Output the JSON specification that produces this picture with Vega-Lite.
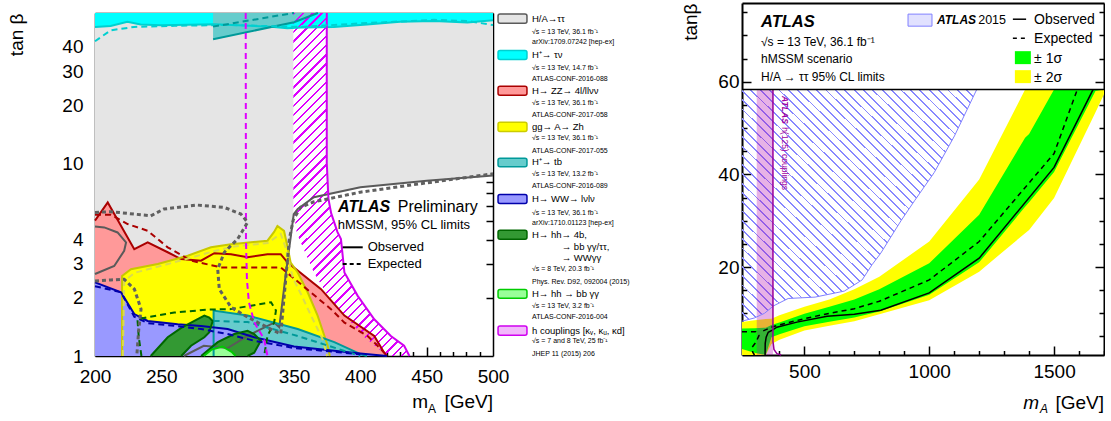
{
"$schema": "https://vega.github.io/schema/vega-lite/v6.json",
"padding": {"left": 7, "top": 2, "right": 0, "bottom": 0},
"bounds": "flush",
"spacing": 647,
"config": {
  "font": "Liberation Sans",
  "view": {"stroke": null},
  "text": {"font": "Liberation Sans", "color": "#000"},
  "axis": {"grid": false, "domainColor": "#000", "tickColor": "#000", "labelColor": "#000", "labelFont": "Liberation Sans", "labelFontSize": 19, "titleFont": "Liberation Sans", "titleFontSize": 19, "titleFontWeight": "normal", "titleColor": "#000", "zindex": 1, "domainWidth": 1.5, "tickWidth": 1.5, "labelOverlap": false, "labelFlush": false}
},
"datasets": {
  "one": [{}],
  "ttfill": [{"m":200,"t":1},{"m":335,"t":1},{"m":335.1,"t":1.49},{"m":338.9,"t":1.41},{"m":344,"t":2.71},{"m":349.8,"t":5.44},{"m":352.8,"t":5.78},{"m":365,"t":6.66},{"m":400,"t":7.5},{"m":450,"t":8.1},{"m":500,"t":8.63}],
  "obs": [
    {"s":"tt","m":267,"t":1},{"s":"tt","m":282,"t":1.13},{"s":"tt","m":300,"t":1.1},{"s":"tt","m":315,"t":1.27},{"s":"tt","m":335,"t":1.49},{"s":"tt","m":338.9,"t":1.41},{"s":"tt","m":344,"t":2.71},{"s":"tt","m":349.8,"t":5.44},{"s":"tt","m":352.8,"t":5.78},{"s":"tt","m":365,"t":6.66},{"s":"tt","m":400,"t":7.5},{"s":"tt","m":450,"t":8.1},{"s":"tt","m":500,"t":8.63},
    {"s":"ttl","m":200,"t":2.66},{"s":"ttl","m":214.5,"t":2.93},{"s":"ttl","m":222,"t":3.51},{"s":"ttl","m":223.4,"t":3.88},{"s":"ttl","m":217,"t":4.37},{"s":"ttl","m":207,"t":4.64},{"s":"ttl","m":200,"t":4.69},
    {"s":"cy","m":200,"t":50.8},{"s":"cy","m":211.8,"t":51.4},{"s":"cy","m":224.4,"t":54},{"s":"cy","m":234.4,"t":52.3},{"s":"cy","m":249.5,"t":51.9},{"s":"cy","m":290,"t":52.5},{"s":"cy","m":335,"t":50.8},{"s":"cy","m":345,"t":50},{"s":"cy","m":355,"t":50.4},{"s":"cy","m":380,"t":50.8},{"s":"cy","m":405,"t":52.3},{"s":"cy","m":430,"t":54},{"s":"cy","m":455.6,"t":54.5},{"s":"cy","m":480.7,"t":53.6},{"s":"cy","m":500,"t":55},
    {"s":"tt2","m":289,"t":43.9},{"s":"tt2","m":350,"t":53.7},{"s":"tt2","m":368,"t":60},
    {"s":"red","m":200,"t":5.03},{"s":"red","m":209.6,"t":6.25},{"s":"red","m":229.6,"t":3.58},{"s":"red","m":239.7,"t":3.88},{"s":"red","m":254.8,"t":3.45},{"s":"red","m":264.8,"t":3.18},{"s":"red","m":279.9,"t":3.12},{"s":"red","m":289.9,"t":3.41},{"s":"red","m":302.5,"t":3.37},{"s":"red","m":315,"t":3.25},{"s":"red","m":330,"t":3.37},{"s":"red","m":340,"t":3.37},{"s":"red","m":345,"t":3.06},{"s":"red","m":370.4,"t":2.22},{"s":"red","m":388,"t":1.62},{"s":"red","m":410.5,"t":1.27},{"s":"red","m":418,"t":1.04},{"s":"red","m":420,"t":1},
    {"s":"yel","m":220.4,"t":1},{"s":"yel","m":220.4,"t":2.6},{"s":"yel","m":227.1,"t":2.82},{"s":"yel","m":247.3,"t":3},{"s":"yel","m":269.9,"t":3.31},{"s":"yel","m":287.4,"t":3.66},{"s":"yel","m":302.5,"t":3.8},{"s":"yel","m":330,"t":3.96},{"s":"yel","m":335,"t":4.4},{"s":"yel","m":337.5,"t":4.72},{"s":"yel","m":342.5,"t":4.45},{"s":"yel","m":345,"t":3.72},{"s":"yel","m":347.5,"t":3.05},{"s":"yel","m":352.8,"t":2.71},{"s":"yel","m":360.3,"t":2.14},{"s":"yel","m":367.8,"t":1.62},{"s":"yel","m":375.4,"t":1.13},{"s":"yel","m":377,"t":1},
    {"s":"tb","m":289.4,"t":1},{"s":"tb","m":289.4,"t":1.72},{"s":"tb","m":315,"t":1.62},{"s":"tb","m":352.8,"t":1.38},{"s":"tb","m":380.4,"t":1.18},{"s":"tb","m":400.5,"t":1.02},{"s":"tb","m":405,"t":1},
    {"s":"blu","m":200,"t":2.41},{"s":"blu","m":219.6,"t":2.14},{"s":"blu","m":229.6,"t":1.65},{"s":"blu","m":239.7,"t":1.52},{"s":"blu","m":262.3,"t":1.46},{"s":"blu","m":279.9,"t":1.43},{"s":"blu","m":300,"t":1.38},{"s":"blu","m":320,"t":1.25},{"s":"blu","m":350,"t":1.12},{"s":"blu","m":400,"t":1.03},{"s":"blu","m":420,"t":1},
    {"s":"dg1","m":242,"t":1},{"s":"dg1","m":254.8,"t":1.25},{"s":"dg1","m":265,"t":1.4},{"s":"dg1","m":272.4,"t":1.49},{"s":"dg1","m":282.4,"t":1.62},{"s":"dg1","m":286.2,"t":1.58},{"s":"dg1","m":288.7,"t":1.52},{"s":"dg1","m":286.2,"t":1.33},{"s":"dg1","m":282.4,"t":1.25},{"s":"dg1","m":272.4,"t":1.13},{"s":"dg1","m":265,"t":1},
    {"s":"dg2","m":280,"t":1},{"s":"dg2","m":292.5,"t":1.18},{"s":"dg2","m":305,"t":1.3},{"s":"dg2","m":315,"t":1.35},{"s":"dg2","m":320,"t":1.3},{"s":"dg2","m":325,"t":1.2},{"s":"dg2","m":320,"t":1.04},{"s":"dg2","m":315,"t":1},
    {"s":"lg","m":282,"t":1},{"s":"lg","m":288,"t":1.08},{"s":"lg","m":296,"t":1.12},{"s":"lg","m":303,"t":1.05},{"s":"lg","m":306,"t":1},
    {"s":"mag","m":374.7,"t":60},{"s":"mag","m":374.7,"t":10},{"s":"mag","m":376,"t":6.5},{"s":"mag","m":378,"t":5.5},{"s":"mag","m":382.7,"t":4.4},{"s":"mag","m":385.4,"t":4.04},{"s":"mag","m":388,"t":2.71},{"s":"mag","m":398,"t":2.05},{"s":"mag","m":410.5,"t":1.55},{"s":"mag","m":423,"t":1.27},{"s":"mag","m":433,"t":1.13},{"s":"mag","m":437,"t":1}
  ],
  "exp": [
    {"s":"cy","m":200,"t":42.8},{"s":"cy","m":211.8,"t":48.8},{"s":"cy","m":229.4,"t":50.8},{"s":"cy","m":260,"t":51.5},{"s":"cy","m":300,"t":52},{"s":"cy","m":355,"t":50.8},{"s":"cy","m":400,"t":53},{"s":"cy","m":455.6,"t":55.3},{"s":"cy","m":480.7,"t":54.5},{"s":"cy","m":500,"t":52},
    {"s":"tt2","m":289,"t":51},{"s":"tt2","m":340,"t":58.5},{"s":"tt2","m":350,"t":60},
    {"s":"red","m":200,"t":5.4},{"s":"red","m":212,"t":5.4},{"s":"red","m":224.6,"t":4.83},{"s":"red","m":239.7,"t":4.46},{"s":"red","m":254.8,"t":3.66},{"s":"red","m":272.4,"t":3.12},{"s":"red","m":295,"t":2.88},{"s":"red","m":340,"t":2.88},{"s":"red","m":347.7,"t":2.6},{"s":"red","m":377.9,"t":1.75},{"s":"red","m":388,"t":1.49},{"s":"red","m":405.5,"t":1.27},{"s":"red","m":413,"t":1.13},{"s":"red","m":418,"t":1.04},
    {"s":"yel","m":221,"t":1},{"s":"yel","m":222,"t":2.45},{"s":"yel","m":230,"t":2.7},{"s":"yel","m":247,"t":2.9},{"s":"yel","m":270,"t":3.2},{"s":"yel","m":290,"t":3.5},{"s":"yel","m":305,"t":3.7},{"s":"yel","m":330,"t":3.85},{"s":"yel","m":340,"t":4.3},{"s":"yel","m":344,"t":3.6},{"s":"yel","m":349,"t":2.56},{"s":"yel","m":355.3,"t":2.09},{"s":"yel","m":362.8,"t":1.62},{"s":"yel","m":371.6,"t":1.22},{"s":"yel","m":375,"t":1},
    {"s":"tb","m":289.4,"t":1.52},{"s":"tb","m":315,"t":1.5},{"s":"tb","m":352.8,"t":1.27},{"s":"tb","m":383,"t":1.09},{"s":"tb","m":400,"t":1},
    {"s":"blu","m":200,"t":2.3},{"s":"blu","m":219.6,"t":2.14},{"s":"blu","m":229.6,"t":1.6},{"s":"blu","m":239.7,"t":1.48},{"s":"blu","m":262,"t":1.43},{"s":"blu","m":280,"t":1.38},{"s":"blu","m":300,"t":1.3},{"s":"blu","m":320,"t":1.2},{"s":"blu","m":350,"t":1.1},{"s":"blu","m":400,"t":1.02},
    {"s":"dg","m":235,"t":1},{"s":"dg","m":233,"t":1.25},{"s":"dg","m":232,"t":1.55},{"s":"dg","m":239.7,"t":1.59},{"s":"dg","m":259.8,"t":1.68},{"s":"dg","m":285,"t":1.74},{"s":"dg","m":302.5,"t":1.75},{"s":"dg","m":332.7,"t":1.9},{"s":"dg","m":336.4,"t":1.72},{"s":"dg","m":335,"t":1.49},{"s":"dg","m":330,"t":1.27},{"s":"dg","m":327.5,"t":1},
    {"s":"mag","m":313.6,"t":60},{"s":"mag","m":313.8,"t":4},{"s":"mag","m":314.5,"t":2.5},{"s":"mag","m":316,"t":1.9},{"s":"mag","m":320,"t":1.5},{"s":"mag","m":327.5,"t":1.22},{"s":"mag","m":330,"t":1}
  ],
  "expg": [
    {"s":"a","m":200,"t":5.55},{"s":"a","m":212,"t":5.6},{"s":"a","m":242,"t":5.33},{"s":"a","m":252,"t":5.78},{"s":"a","m":277,"t":6.06},{"s":"a","m":297.5,"t":5.89},{"s":"a","m":310,"t":5.44},{"s":"a","m":315,"t":4.93},{"s":"a","m":307.5,"t":4.04},{"s":"a","m":297.5,"t":3.45},{"s":"a","m":292.5,"t":2.82},{"s":"a","m":293.7,"t":2.22},{"s":"a","m":302.5,"t":1.79},{"s":"a","m":315,"t":1.59},{"s":"a","m":335,"t":1.35},{"s":"a","m":340,"t":1.3},{"s":"a","m":346.5,"t":4.04},{"s":"a","m":349.5,"t":5.1},{"s":"a","m":355,"t":5.9},{"s":"a","m":365,"t":6.3},{"s":"a","m":400,"t":7.07},{"s":"a","m":450,"t":7.9},{"s":"a","m":500,"t":8.8},
    {"s":"b","m":200,"t":2.45},{"s":"b","m":212,"t":2.48},{"s":"b","m":222,"t":2.5},{"s":"b","m":229.7,"t":2.22},{"s":"b","m":234.7,"t":1.75},{"s":"b","m":233,"t":1.38},{"s":"b","m":231.5,"t":1}
  ],
  "dgfill": [{"b":1,"m":242,"lo":1,"hi":1},{"b":1,"m":254.8,"lo":1,"hi":1.25},{"b":1,"m":265,"lo":1,"hi":1.4},{"b":1,"m":272.4,"lo":1.13,"hi":1.49},{"b":1,"m":282.4,"lo":1.25,"hi":1.62},{"b":1,"m":286.2,"lo":1.33,"hi":1.58},{"b":1,"m":288.7,"lo":1.52,"hi":1.52},{"b":2,"m":280,"lo":1,"hi":1},{"b":2,"m":292.5,"lo":1,"hi":1.18},{"b":2,"m":305,"lo":1,"hi":1.3},{"b":2,"m":315,"lo":1,"hi":1.35},{"b":2,"m":320,"lo":1.04,"hi":1.3},{"b":2,"m":325,"lo":1.2,"hi":1.2}],
  "lgfill": [{"m":282,"lo":1,"hi":1},{"m":288,"lo":1,"hi":1.08},{"m":296,"lo":1,"hi":1.12},{"m":303,"lo":1,"hi":1.05},{"m":306,"lo":1,"hi":1}],
  "mh": [{"t":1,"l":420,"r":437},{"t":1.13,"l":411,"r":433},{"t":1.27,"l":402,"r":423},{"t":1.55,"l":391,"r":410.5},{"t":2.05,"l":375.5,"r":398},{"t":2.71,"l":365,"r":388},{"t":4.04,"l":354,"r":385.4},{"t":4.4,"l":352,"r":382.7},{"t":5.5,"l":350,"r":378},{"t":6.5,"l":349.5,"r":376},{"t":10,"l":349.5,"r":374.7},{"t":60,"l":349.5,"r":374.7}],
  "legsw": [{"k":"tt","t1":53.1,"t2":59.2},{"k":"cy","t1":34.4,"t2":38.3},{"k":"zz","t1":22.5,"t2":25.0},{"k":"zh","t1":14.6,"t2":16.3},{"k":"tb","t1":9.56,"t2":10.6},{"k":"ww","t1":6.17,"t2":6.87},{"k":"hh","t1":4.03,"t2":4.49},{"k":"hh2","t1":1.99,"t2":2.21},{"k":"hc","t1":1.28,"t2":1.43}],
  "legt": [{"tx":"H/A→ττ","m":529.4,"t":56.1},{"tx":"H⁺→ τν","m":529.4,"t":36.3},{"tx":"H→ ZZ→ 4l/llνν","m":529.4,"t":23.7},{"tx":"gg→ A→ Zh","m":529.4,"t":15.4},{"tx":"H⁺→ tb","m":529.4,"t":10.1},{"tx":"H→ WW→ lνlν","m":529.4,"t":6.51},{"tx":"H→ hh→ 4b,","m":529.4,"t":4.25},{"tx":"→ bb γγ/ττ,","m":551.8,"t":3.68},{"tx":"→ WWγγ","m":551.8,"t":3.21},{"tx":"H→ hh → bb γγ","m":529.4,"t":2.10},{"tx":"h couplings [κᵥ, κᵤ, κd]","m":529.4,"t":1.35}],
  "legs": [{"tx":"√s = 13 TeV, 36.1 fb⁻¹","t":48.1},{"tx":"arXiv:1709.07242 [hep-ex]","t":42.2},{"tx":"√s = 13 TeV, 14.7 fb⁻¹","t":31.3},{"tx":"ATLAS-CONF-2016-088","t":27.2},{"tx":"√s = 13 TeV, 36.1 fb⁻¹","t":20.6},{"tx":"ATLAS-CONF-2017-058","t":17.7},{"tx":"√s = 13 TeV, 36.1 fb⁻¹","t":13.5},{"tx":"ATLAS-CONF-2017-055","t":11.6},{"tx":"√s = 13 TeV, 13.2 fb⁻¹","t":8.77},{"tx":"ATLAS-CONF-2016-089","t":7.57},{"tx":"√s = 13 TeV, 36.1 fb⁻¹","t":5.49},{"tx":"arXiv:1710.01123 [hep-ex]","t":4.89},{"tx":"√s = 8 TeV, 20.3 fb⁻¹","t":2.82},{"tx":"Phys. Rev. D92, 092004 (2015)","t":2.43},{"tx":"√s = 13 TeV, 3.2 fb⁻¹","t":1.82},{"tx":"ATLAS-CONF-2016-004","t":1.59},{"tx":"√s = 7 and 8 TeV, 25 fb⁻¹","t":1.19},{"tx":"JHEP 11 (2015) 206","t":1.02}],
  "bands": [{"m":250,"ylo":1,"yhi":8.1,"glo":2.3,"ghi":6.7},{"m":300,"ylo":1,"yhi":8.5,"glo":1.5,"ghi":6.8},{"m":345,"ylo":1,"yhi":8.75,"glo":1,"ghi":6.9},{"m":368,"ylo":3.4,"yhi":8.85,"glo":4.85,"ghi":7.5},{"m":400,"ylo":4.3,"yhi":9.6,"glo":5.5,"ghi":8.0},{"m":500,"ylo":6.3,"yhi":11.4,"glo":7.2,"ghi":9.9},{"m":600,"ylo":7.3,"yhi":13.0,"glo":8.2,"ghi":11.4},{"m":700,"ylo":8.3,"yhi":15.2,"glo":9.1,"ghi":13.0},{"m":800,"ylo":9.8,"yhi":17.9,"glo":10.4,"ghi":15.2},{"m":1000,"ylo":12.8,"yhi":25.5,"glo":14.0,"ghi":20.8},{"m":1200,"ylo":19.0,"yhi":38.9,"glo":21.0,"ghi":31.3},{"m":1384,"ylo":27.3,"yhi":58.3,"glo":33.0,"ghi":47.9},{"m":1400,"ylo":28.0,"yhi":58.3,"glo":34.0,"ghi":48.7},{"m":1500,"ylo":34.9,"yhi":58.3,"glo":40.5,"ghi":58.3},{"m":1666,"ylo":53.4,"yhi":58.3,"glo":58.0,"ghi":58.3},{"m":1700,"ylo":57.3,"yhi":58.3,"glo":58.3,"ghi":58.3}],
  "rexp": [{"s":"a","m":250,"t":6},{"s":"a","m":305,"t":6},{"s":"a","m":318,"t":5.2},{"s":"a","m":305,"t":3.7},{"s":"a","m":291,"t":2.7},{"s":"a","m":293,"t":1.6},{"s":"a","m":300,"t":1},{"s":"b","m":335,"t":6.2},{"s":"b","m":368,"t":7},{"s":"b","m":400,"t":7.5},{"s":"b","m":500,"t":8.85},{"s":"b","m":600,"t":10},{"s":"b","m":700,"t":11},{"s":"b","m":800,"t":12.6},{"s":"b","m":1000,"t":17.2},{"s":"b","m":1200,"t":25.5},{"s":"b","m":1500,"t":44.5},{"s":"b","m":1593,"t":58.3}],
  "robs": [{"m":342.5,"t":1},{"m":343,"t":3.5},{"m":346.8,"t":4.85},{"m":355,"t":5.9},{"m":369.6,"t":6.3},{"m":389.8,"t":7},{"m":470,"t":8.1},{"m":591,"t":9.35},{"m":700,"t":9.8},{"m":806,"t":10.65},{"m":1000,"t":14.4},{"m":1200,"t":21.9},{"m":1500,"t":41.5},{"m":1656,"t":58.3}],
  "rblue": [{"m":250,"t":8.3},{"m":300,"t":9.0},{"m":340,"t":10.0},{"m":376,"t":11.6},{"m":435,"t":13.2},{"m":543,"t":13.5},{"m":660,"t":14.8},{"m":731,"t":17.2},{"m":771,"t":20.5},{"m":806,"t":23.0},{"m":887,"t":30.0},{"m":941,"t":34.3},{"m":1020,"t":40.4},{"m":1101,"t":48.3},{"m":1190,"t":58.3}],
  "rmag": [{"m":374,"t":58.3},{"m":374,"t":4},{"m":378,"t":2.2},{"m":390,"t":1.3},{"m":407,"t":1}]
},
"hconcat": [
 {"bounds": "flush", "spacing": 9, "vconcat": [
  {"width": 398, "height": 1, "data": {"values": []}, "mark": "point"},
  {"width": 398, "height": 343,
   "resolve": {"axis": {"x": "independent", "y": "independent"}},
   "layer": [
    {"resolve": {"scale": {"color": "independent", "fill": "independent", "stroke": "independent"}},
     "layer": [
      {"data": {"name": "ttfill"}, "mark": {"type": "area", "color": "#e5e5e5"},
       "encoding": {"x": {"field": "m", "type": "quantitative", "scale": {"domain": [200, 500], "nice": false, "zero": false}, "axis": {"orient": "bottom", "values": [200,250,300,350,400,450,500], "ticks": false, "labelPadding": 11, "title": null}},
                    "y": {"field": "t", "type": "quantitative", "scale": {"type": "log", "domain": [1, 60], "nice": false}, "axis": {"orient": "left", "values": [1,2,3,4,10,20,30,40], "format": "~g", "ticks": false, "labelPadding": 12, "title": "tan β", "titleAnchor": "end", "titlePadding": 35}},
                    "y2": {"datum": 60}}},
      {"data": {"name": "obs"}, "transform": [{"filter": "datum.s == 'cy'"}], "mark": {"type": "area", "color": "#00ffff"}, "encoding": {"x": {"field": "m", "type": "quantitative"}, "y": {"field": "t", "type": "quantitative"}, "y2": {"datum": 60}}},
      {"data": {"name": "obs"}, "transform": [{"filter": "datum.s == 'tt2'"}], "mark": {"type": "area", "color": "#66cccc"}, "encoding": {"x": {"field": "m", "type": "quantitative"}, "y": {"field": "t", "type": "quantitative"}, "y2": {"datum": 60}}},
      {"data": {"name": "one"}, "mark": {"type": "rect", "color": "#ffffff"}, "encoding": {"x": {"datum": 349.5}, "x2": {"datum": 374.7}, "y": {"datum": 1}, "y2": {"datum": 50}}},
      {"data": {"name": "obs"}, "transform": [{"filter": "datum.s == 'red'"}], "mark": {"type": "area", "color": "#ff9999"}, "encoding": {"x": {"field": "m", "type": "quantitative"}, "y": {"field": "t", "type": "quantitative"}, "y2": {"datum": 1}}},
      {"data": {"name": "obs"}, "transform": [{"filter": "datum.s == 'yel' && !(datum.m == 220.4 && datum.t == 1)"}], "mark": {"type": "area", "color": "#ffff00"}, "encoding": {"x": {"field": "m", "type": "quantitative"}, "y": {"field": "t", "type": "quantitative"}, "y2": {"datum": 1}}},
      {"data": {"name": "obs"}, "transform": [{"filter": "datum.s == 'tb' && !(datum.m == 289.4 && datum.t == 1)"}], "mark": {"type": "area", "color": "#66cccc"}, "encoding": {"x": {"field": "m", "type": "quantitative"}, "y": {"field": "t", "type": "quantitative"}, "y2": {"datum": 1}}},
      {"data": {"name": "obs"}, "transform": [{"filter": "datum.s == 'blu'"}], "mark": {"type": "area", "color": "#9999ff"}, "encoding": {"x": {"field": "m", "type": "quantitative"}, "y": {"field": "t", "type": "quantitative"}, "y2": {"datum": 1}}},
      {"data": {"name": "dgfill"}, "mark": {"type": "area", "color": "#339933"}, "encoding": {"x": {"field": "m", "type": "quantitative"}, "y": {"field": "lo", "type": "quantitative"}, "y2": {"field": "hi"}, "detail": {"field": "b", "type": "nominal"}}},
      {"data": {"name": "lgfill"}, "mark": {"type": "area", "color": "#99ff99"}, "encoding": {"x": {"field": "m", "type": "quantitative"}, "y": {"field": "lo", "type": "quantitative"}, "y2": {"field": "hi"}}},
      {"data": {"name": "mh"}, "mark": {"type": "area", "orient": "horizontal", "fill": {"gradient": "linear", "x1": 0, "y1": 0, "x2": 0.4059, "y2": 1.2008, "stops": [
        {"offset":0,"color":"#d0f"},{"offset":0.005,"color":"#d0f"},{"offset":0.005,"color":"#0000"},
        {"offset":0.02,"color":"#0000"},{"offset":0.02,"color":"#d0f"},{"offset":0.025,"color":"#d0f"},{"offset":0.025,"color":"#0000"},
        {"offset":0.04,"color":"#0000"},{"offset":0.04,"color":"#d0f"},{"offset":0.045,"color":"#d0f"},{"offset":0.045,"color":"#0000"},
        {"offset":0.06,"color":"#0000"},{"offset":0.06,"color":"#d0f"},{"offset":0.065,"color":"#d0f"},{"offset":0.065,"color":"#0000"},
        {"offset":0.08,"color":"#0000"},{"offset":0.08,"color":"#d0f"},{"offset":0.085,"color":"#d0f"},{"offset":0.085,"color":"#0000"},
        {"offset":0.1,"color":"#0000"},{"offset":0.1,"color":"#d0f"},{"offset":0.105,"color":"#d0f"},{"offset":0.105,"color":"#0000"},
        {"offset":0.12,"color":"#0000"},{"offset":0.12,"color":"#d0f"},{"offset":0.125,"color":"#d0f"},{"offset":0.125,"color":"#0000"},
        {"offset":0.14,"color":"#0000"},{"offset":0.14,"color":"#d0f"},{"offset":0.145,"color":"#d0f"},{"offset":0.145,"color":"#0000"},
        {"offset":0.16,"color":"#0000"},{"offset":0.16,"color":"#d0f"},{"offset":0.165,"color":"#d0f"},{"offset":0.165,"color":"#0000"},
        {"offset":0.18,"color":"#0000"},{"offset":0.18,"color":"#d0f"},{"offset":0.185,"color":"#d0f"},{"offset":0.185,"color":"#0000"},
        {"offset":0.2,"color":"#0000"},{"offset":0.2,"color":"#d0f"},{"offset":0.205,"color":"#d0f"},{"offset":0.205,"color":"#0000"},
        {"offset":0.22,"color":"#0000"},{"offset":0.22,"color":"#d0f"},{"offset":0.225,"color":"#d0f"},{"offset":0.225,"color":"#0000"},
        {"offset":0.24,"color":"#0000"},{"offset":0.24,"color":"#d0f"},{"offset":0.245,"color":"#d0f"},{"offset":0.245,"color":"#0000"},
        {"offset":0.26,"color":"#0000"},{"offset":0.26,"color":"#d0f"},{"offset":0.265,"color":"#d0f"},{"offset":0.265,"color":"#0000"},
        {"offset":0.28,"color":"#0000"},{"offset":0.28,"color":"#d0f"},{"offset":0.285,"color":"#d0f"},{"offset":0.285,"color":"#0000"},
        {"offset":0.3,"color":"#0000"},{"offset":0.3,"color":"#d0f"},{"offset":0.305,"color":"#d0f"},{"offset":0.305,"color":"#0000"},
        {"offset":0.32,"color":"#0000"},{"offset":0.32,"color":"#d0f"},{"offset":0.325,"color":"#d0f"},{"offset":0.325,"color":"#0000"},
        {"offset":0.34,"color":"#0000"},{"offset":0.34,"color":"#d0f"},{"offset":0.345,"color":"#d0f"},{"offset":0.345,"color":"#0000"},
        {"offset":0.36,"color":"#0000"},{"offset":0.36,"color":"#d0f"},{"offset":0.365,"color":"#d0f"},{"offset":0.365,"color":"#0000"},
        {"offset":0.38,"color":"#0000"},{"offset":0.38,"color":"#d0f"},{"offset":0.385,"color":"#d0f"},{"offset":0.385,"color":"#0000"},
        {"offset":0.4,"color":"#0000"},{"offset":0.4,"color":"#d0f"},{"offset":0.405,"color":"#d0f"},{"offset":0.405,"color":"#0000"},
        {"offset":0.42,"color":"#0000"},{"offset":0.42,"color":"#d0f"},{"offset":0.425,"color":"#d0f"},{"offset":0.425,"color":"#0000"},
        {"offset":0.44,"color":"#0000"},{"offset":0.44,"color":"#d0f"},{"offset":0.445,"color":"#d0f"},{"offset":0.445,"color":"#0000"},
        {"offset":0.46,"color":"#0000"},{"offset":0.46,"color":"#d0f"},{"offset":0.465,"color":"#d0f"},{"offset":0.465,"color":"#0000"},
        {"offset":0.48,"color":"#0000"},{"offset":0.48,"color":"#d0f"},{"offset":0.485,"color":"#d0f"},{"offset":0.485,"color":"#0000"},
        {"offset":0.5,"color":"#0000"},{"offset":0.5,"color":"#d0f"},{"offset":0.505,"color":"#d0f"},{"offset":0.505,"color":"#0000"},
        {"offset":0.52,"color":"#0000"},{"offset":0.52,"color":"#d0f"},{"offset":0.525,"color":"#d0f"},{"offset":0.525,"color":"#0000"},
        {"offset":0.54,"color":"#0000"},{"offset":0.54,"color":"#d0f"},{"offset":0.545,"color":"#d0f"},{"offset":0.545,"color":"#0000"},
        {"offset":0.56,"color":"#0000"},{"offset":0.56,"color":"#d0f"},{"offset":0.565,"color":"#d0f"},{"offset":0.565,"color":"#0000"},
        {"offset":0.58,"color":"#0000"},{"offset":0.58,"color":"#d0f"},{"offset":0.585,"color":"#d0f"},{"offset":0.585,"color":"#0000"},
        {"offset":0.6,"color":"#0000"},{"offset":0.6,"color":"#d0f"},{"offset":0.605,"color":"#d0f"},{"offset":0.605,"color":"#0000"},
        {"offset":0.62,"color":"#0000"},{"offset":0.62,"color":"#d0f"},{"offset":0.625,"color":"#d0f"},{"offset":0.625,"color":"#0000"},
        {"offset":0.64,"color":"#0000"},{"offset":0.64,"color":"#d0f"},{"offset":0.645,"color":"#d0f"},{"offset":0.645,"color":"#0000"},
        {"offset":0.66,"color":"#0000"},{"offset":0.66,"color":"#d0f"},{"offset":0.665,"color":"#d0f"},{"offset":0.665,"color":"#0000"},
        {"offset":0.68,"color":"#0000"},{"offset":0.68,"color":"#d0f"},{"offset":0.685,"color":"#d0f"},{"offset":0.685,"color":"#0000"},
        {"offset":0.7,"color":"#0000"},{"offset":0.7,"color":"#d0f"},{"offset":0.705,"color":"#d0f"},{"offset":0.705,"color":"#0000"},
        {"offset":0.72,"color":"#0000"},{"offset":0.72,"color":"#d0f"},{"offset":0.725,"color":"#d0f"},{"offset":0.725,"color":"#0000"},
        {"offset":0.74,"color":"#0000"},{"offset":0.74,"color":"#d0f"},{"offset":0.745,"color":"#d0f"},{"offset":0.745,"color":"#0000"},
        {"offset":0.76,"color":"#0000"},{"offset":0.76,"color":"#d0f"},{"offset":0.765,"color":"#d0f"},{"offset":0.765,"color":"#0000"},
        {"offset":0.78,"color":"#0000"},{"offset":0.78,"color":"#d0f"},{"offset":0.785,"color":"#d0f"},{"offset":0.785,"color":"#0000"},
        {"offset":0.8,"color":"#0000"},{"offset":0.8,"color":"#d0f"},{"offset":0.805,"color":"#d0f"},{"offset":0.805,"color":"#0000"},
        {"offset":0.82,"color":"#0000"},{"offset":0.82,"color":"#d0f"},{"offset":0.825,"color":"#d0f"},{"offset":0.825,"color":"#0000"},
        {"offset":0.84,"color":"#0000"},{"offset":0.84,"color":"#d0f"},{"offset":0.845,"color":"#d0f"},{"offset":0.845,"color":"#0000"},
        {"offset":0.86,"color":"#0000"},{"offset":0.86,"color":"#d0f"},{"offset":0.865,"color":"#d0f"},{"offset":0.865,"color":"#0000"},
        {"offset":0.88,"color":"#0000"},{"offset":0.88,"color":"#d0f"},{"offset":0.885,"color":"#d0f"},{"offset":0.885,"color":"#0000"},
        {"offset":0.9,"color":"#0000"},{"offset":0.9,"color":"#d0f"},{"offset":0.905,"color":"#d0f"},{"offset":0.905,"color":"#0000"},
        {"offset":0.92,"color":"#0000"},{"offset":0.92,"color":"#d0f"},{"offset":0.925,"color":"#d0f"},{"offset":0.925,"color":"#0000"},
        {"offset":0.94,"color":"#0000"},{"offset":0.94,"color":"#d0f"},{"offset":0.945,"color":"#d0f"},{"offset":0.945,"color":"#0000"},
        {"offset":0.96,"color":"#0000"},{"offset":0.96,"color":"#d0f"},{"offset":0.965,"color":"#d0f"},{"offset":0.965,"color":"#0000"},
        {"offset":0.98,"color":"#0000"},{"offset":0.98,"color":"#d0f"},{"offset":0.985,"color":"#d0f"},{"offset":0.985,"color":"#0000"},{"offset":1,"color":"#0000"}]}},
       "encoding": {"y": {"field": "t", "type": "quantitative"}, "x": {"field": "l", "type": "quantitative"}, "x2": {"field": "r"}}},
      {"data": {"name": "obs"}, "mark": {"type": "line", "strokeWidth": 2}, "encoding": {"x": {"field": "m", "type": "quantitative"}, "y": {"field": "t", "type": "quantitative"}, "order": {"value": null},
        "color": {"field": "s", "type": "nominal", "legend": null, "scale": {"domain": ["tt","ttl","cy","tt2","red","yel","tb","blu","dg1","dg2","lg","mag"], "range": ["#5a5a5a","#5a5a5a","#00d0d0","#009999","#aa0000","#c8c800","#009999","#0000aa","#006600","#006600","#00cc00","#d000f0"]}}}},
      {"data": {"name": "exp"}, "mark": {"type": "line", "strokeWidth": 2, "strokeDash": [6, 4]}, "encoding": {"x": {"field": "m", "type": "quantitative"}, "y": {"field": "t", "type": "quantitative"}, "order": {"value": null},
        "color": {"field": "s", "type": "nominal", "legend": null, "scale": {"domain": ["cy","tt2","red","yel","tb","blu","dg","mag"], "range": ["#00d0d0","#009999","#aa0000","#dada50","#009999","#0000aa","#006600","#e000ff"]}}}},
      {"data": {"name": "expg"}, "mark": {"type": "line", "strokeWidth": 3, "strokeDash": [4, 3], "color": "#606060"}, "encoding": {"x": {"field": "m", "type": "quantitative"}, "y": {"field": "t", "type": "quantitative"}, "order": {"value": null}, "detail": {"field": "s", "type": "nominal"}}},
      {"data": {"name": "legsw"}, "mark": {"type": "rect", "strokeWidth": 1.5, "cornerRadius": 2},
       "encoding": {"x": {"datum": 503.8}, "x2": {"datum": 525.6}, "y": {"field": "t1", "type": "quantitative"}, "y2": {"field": "t2"},
        "fill": {"field": "k", "type": "nominal", "legend": null, "scale": {"domain": ["tt","cy","zz","zh","tb","ww","hh","hh2","hc"], "range": ["#e5e5e5","#00ffff","#ff9999","#ffff00","#66cccc","#9999ff","#339933","#99ff99","rgba(208,0,240,0.28)"]}},
        "stroke": {"field": "k", "type": "nominal", "legend": null, "scale": {"domain": ["tt","cy","zz","zh","tb","ww","hh","hh2","hc"], "range": ["#5a5a5a","#00d0d0","#aa0000","#cccc00","#009999","#0000aa","#006600","#00cc00","#d000f0"]}}}},
      {"data": {"name": "legt"}, "mark": {"type": "text", "fontSize": 9.5, "align": "left", "baseline": "middle"}, "encoding": {"x": {"field": "m", "type": "quantitative"}, "y": {"field": "t", "type": "quantitative"}, "text": {"field": "tx"}}},
      {"data": {"name": "legs"}, "mark": {"type": "text", "fontSize": 7, "align": "left", "baseline": "middle"}, "encoding": {"x": {"datum": 529.4}, "y": {"field": "t", "type": "quantitative"}, "text": {"field": "tx"}}},
      {"data": {"name": "one"}, "mark": {"type": "text", "text": "ATLAS", "fontSize": 16, "fontWeight": "bold", "fontStyle": "italic", "align": "left", "baseline": "alphabetic"}, "encoding": {"x": {"datum": 383.2}, "y": {"datum": 5.555}}},
      {"data": {"name": "one"}, "mark": {"type": "text", "text": "Preliminary", "fontSize": 16, "align": "left", "baseline": "alphabetic"}, "encoding": {"x": {"datum": 428.2}, "y": {"datum": 5.555}}},
      {"data": {"name": "one"}, "mark": {"type": "text", "text": "hMSSM, 95% CL limits", "fontSize": 13, "align": "left", "baseline": "alphabetic"}, "encoding": {"x": {"datum": 382.9}, "y": {"datum": 4.55}}},
      {"data": {"name": "one"}, "mark": {"type": "rule", "color": "#000", "strokeWidth": 2}, "encoding": {"x": {"datum": 386.7}, "x2": {"datum": 401.8}, "y": {"datum": 3.66}}},
      {"data": {"name": "one"}, "mark": {"type": "rule", "color": "#000", "strokeWidth": 2, "strokeDash": [4, 3]}, "encoding": {"x": {"datum": 386.7}, "x2": {"datum": 401.8}, "y": {"datum": 3.0}}},
      {"data": {"name": "one"}, "mark": {"type": "text", "text": "Observed", "fontSize": 13, "align": "left", "baseline": "alphabetic"}, "encoding": {"x": {"datum": 405.5}, "y": {"datum": 3.51}}},
      {"data": {"name": "one"}, "mark": {"type": "text", "text": "Expected", "fontSize": 13, "align": "left", "baseline": "alphabetic"}, "encoding": {"x": {"datum": 405.5}, "y": {"datum": 2.85}}},
      {"data": {"name": "one"}, "mark": {"type": "text", "text": "[GeV]", "fontSize": 19, "align": "right", "baseline": "alphabetic"}, "encoding": {"x": {"datum": 500}, "y": {"datum": 0.5377}}},
      {"data": {"name": "one"}, "mark": {"type": "text", "text": "A", "fontSize": 12, "align": "right", "baseline": "alphabetic", "dx": -57}, "encoding": {"x": {"datum": 500}, "y": {"datum": 0.5065}}},
      {"data": {"name": "one"}, "mark": {"type": "text", "text": "m", "fontSize": 19, "align": "right", "baseline": "alphabetic", "dx": -65}, "encoding": {"x": {"datum": 500}, "y": {"datum": 0.5377}}}
     ]},
    {"data": {"name": "one"}, "mark": "point", "encoding": {
      "x": {"field": "m", "type": "quantitative", "axis": {"orient": "bottom", "values": [210,220,230,240,260,270,280,290,310,320,330,340,360,370,380,390,410,420,430,440,460,470,480,490], "offset": -4.5, "tickSize": 4.5, "labels": false, "domain": false, "title": null}},
      "y": {"field": "t", "type": "quantitative", "axis": {"orient": "left", "values": [2,3,4,5,6,7,8,9,20,30,40,50], "offset": -7, "tickSize": 7, "labels": false, "domain": false, "title": null}}}},
    {"data": {"name": "one"}, "mark": "point", "encoding": {
      "x": {"field": "m", "type": "quantitative", "axis": {"orient": "bottom", "values": [250,300,350,400,450], "offset": -9, "tickSize": 9, "labels": false, "domain": false, "title": null}},
      "y": {"field": "t", "type": "quantitative", "axis": {"orient": "left", "values": [10], "offset": -15, "tickSize": 15, "labels": false, "domain": false, "title": null}}}},
    {"data": {"name": "one"}, "mark": "point", "encoding": {
      "x": {"field": "m", "type": "quantitative", "axis": {"orient": "top", "values": [210,220,230,240,260,270,280,290,310,320,330,340,360,370,380,390,410,420,430,440,460,470,480,490], "offset": -4.5, "tickSize": 4.5, "labels": false, "domain": false, "title": null}},
      "y": {"field": "t", "type": "quantitative", "axis": {"orient": "right", "values": [2,3,4,5,6,7,8,9,20,30,40,50], "offset": -7, "tickSize": 7, "labels": false, "domain": false, "title": null}}}},
    {"data": {"name": "one"}, "mark": "point", "encoding": {
      "x": {"field": "m", "type": "quantitative", "axis": {"orient": "top", "values": [250,300,350,400,450], "offset": -9, "tickSize": 9, "labels": false, "domain": false, "title": null}},
      "y": {"field": "t", "type": "quantitative", "axis": {"orient": "right", "values": [10], "offset": -15, "tickSize": 15, "labels": false, "domain": false, "title": null}}}},
    {"data": {"name": "one"}, "mark": "point", "encoding": {
      "x": {"field": "m", "type": "quantitative", "axis": {"orient": "top", "ticks": false, "labels": false, "domain": true, "title": null}},
      "y": {"field": "t", "type": "quantitative", "axis": {"orient": "right", "ticks": false, "labels": false, "domain": true, "title": null}}}}
   ]}
 ]},
 {"width": 362, "height": 352,
  "resolve": {"axis": {"x": "independent", "y": "independent"}},
  "layer": [
   {"layer": [
     {"data": {"name": "bands"}, "mark": {"type": "area", "color": "#ffff00"},
      "encoding": {"x": {"field": "m", "type": "quantitative", "scale": {"domain": [250, 1700], "nice": false, "zero": false}, "axis": {"orient": "bottom", "values": [500,1000,1500], "format": "d", "ticks": false, "labelPadding": 7, "title": null, "domainWidth": 2}},
                   "y": {"field": "ylo", "type": "quantitative", "scale": {"domain": [1, 77], "nice": false, "zero": false}, "axis": {"orient": "left", "values": [20,40,60], "ticks": false, "labelPadding": 3, "title": "tanβ", "titleAnchor": "end", "titlePadding": 17, "domainWidth": 2}},
                   "y2": {"field": "yhi"}}},
     {"data": {"name": "bands"}, "mark": {"type": "area", "color": "#00ff00"}, "encoding": {"x": {"field": "m", "type": "quantitative"}, "y": {"field": "glo", "type": "quantitative"}, "y2": {"field": "ghi"}}},
     {"data": {"name": "rblue"}, "mark": {"type": "area", "fill": {"gradient": "linear", "x1": 1, "y1": 0, "x2": 0, "y2": 1, "stops": [
        {"offset":0,"color":"#88f"},{"offset":0.004,"color":"#88f"},{"offset":0.004,"color":"#0000"},
        {"offset":0.02,"color":"#0000"},{"offset":0.02,"color":"#88f"},{"offset":0.024,"color":"#88f"},{"offset":0.024,"color":"#0000"},
        {"offset":0.04,"color":"#0000"},{"offset":0.04,"color":"#88f"},{"offset":0.044,"color":"#88f"},{"offset":0.044,"color":"#0000"},
        {"offset":0.06,"color":"#0000"},{"offset":0.06,"color":"#88f"},{"offset":0.064,"color":"#88f"},{"offset":0.064,"color":"#0000"},
        {"offset":0.08,"color":"#0000"},{"offset":0.08,"color":"#88f"},{"offset":0.084,"color":"#88f"},{"offset":0.084,"color":"#0000"},
        {"offset":0.1,"color":"#0000"},{"offset":0.1,"color":"#88f"},{"offset":0.104,"color":"#88f"},{"offset":0.104,"color":"#0000"},
        {"offset":0.12,"color":"#0000"},{"offset":0.12,"color":"#88f"},{"offset":0.124,"color":"#88f"},{"offset":0.124,"color":"#0000"},
        {"offset":0.14,"color":"#0000"},{"offset":0.14,"color":"#88f"},{"offset":0.144,"color":"#88f"},{"offset":0.144,"color":"#0000"},
        {"offset":0.16,"color":"#0000"},{"offset":0.16,"color":"#88f"},{"offset":0.164,"color":"#88f"},{"offset":0.164,"color":"#0000"},
        {"offset":0.18,"color":"#0000"},{"offset":0.18,"color":"#88f"},{"offset":0.184,"color":"#88f"},{"offset":0.184,"color":"#0000"},
        {"offset":0.2,"color":"#0000"},{"offset":0.2,"color":"#88f"},{"offset":0.204,"color":"#88f"},{"offset":0.204,"color":"#0000"},
        {"offset":0.22,"color":"#0000"},{"offset":0.22,"color":"#88f"},{"offset":0.224,"color":"#88f"},{"offset":0.224,"color":"#0000"},
        {"offset":0.24,"color":"#0000"},{"offset":0.24,"color":"#88f"},{"offset":0.244,"color":"#88f"},{"offset":0.244,"color":"#0000"},
        {"offset":0.26,"color":"#0000"},{"offset":0.26,"color":"#88f"},{"offset":0.264,"color":"#88f"},{"offset":0.264,"color":"#0000"},
        {"offset":0.28,"color":"#0000"},{"offset":0.28,"color":"#88f"},{"offset":0.284,"color":"#88f"},{"offset":0.284,"color":"#0000"},
        {"offset":0.3,"color":"#0000"},{"offset":0.3,"color":"#88f"},{"offset":0.304,"color":"#88f"},{"offset":0.304,"color":"#0000"},
        {"offset":0.32,"color":"#0000"},{"offset":0.32,"color":"#88f"},{"offset":0.324,"color":"#88f"},{"offset":0.324,"color":"#0000"},
        {"offset":0.34,"color":"#0000"},{"offset":0.34,"color":"#88f"},{"offset":0.344,"color":"#88f"},{"offset":0.344,"color":"#0000"},
        {"offset":0.36,"color":"#0000"},{"offset":0.36,"color":"#88f"},{"offset":0.364,"color":"#88f"},{"offset":0.364,"color":"#0000"},
        {"offset":0.38,"color":"#0000"},{"offset":0.38,"color":"#88f"},{"offset":0.384,"color":"#88f"},{"offset":0.384,"color":"#0000"},
        {"offset":0.4,"color":"#0000"},{"offset":0.4,"color":"#88f"},{"offset":0.404,"color":"#88f"},{"offset":0.404,"color":"#0000"},
        {"offset":0.42,"color":"#0000"},{"offset":0.42,"color":"#88f"},{"offset":0.424,"color":"#88f"},{"offset":0.424,"color":"#0000"},
        {"offset":0.44,"color":"#0000"},{"offset":0.44,"color":"#88f"},{"offset":0.444,"color":"#88f"},{"offset":0.444,"color":"#0000"},
        {"offset":0.46,"color":"#0000"},{"offset":0.46,"color":"#88f"},{"offset":0.464,"color":"#88f"},{"offset":0.464,"color":"#0000"},
        {"offset":0.48,"color":"#0000"},{"offset":0.48,"color":"#88f"},{"offset":0.484,"color":"#88f"},{"offset":0.484,"color":"#0000"},
        {"offset":0.5,"color":"#0000"},{"offset":0.5,"color":"#88f"},{"offset":0.504,"color":"#88f"},{"offset":0.504,"color":"#0000"},
        {"offset":0.52,"color":"#0000"},{"offset":0.52,"color":"#88f"},{"offset":0.524,"color":"#88f"},{"offset":0.524,"color":"#0000"},
        {"offset":0.54,"color":"#0000"},{"offset":0.54,"color":"#88f"},{"offset":0.544,"color":"#88f"},{"offset":0.544,"color":"#0000"},
        {"offset":0.56,"color":"#0000"},{"offset":0.56,"color":"#88f"},{"offset":0.564,"color":"#88f"},{"offset":0.564,"color":"#0000"},
        {"offset":0.58,"color":"#0000"},{"offset":0.58,"color":"#88f"},{"offset":0.584,"color":"#88f"},{"offset":0.584,"color":"#0000"},
        {"offset":0.6,"color":"#0000"},{"offset":0.6,"color":"#88f"},{"offset":0.604,"color":"#88f"},{"offset":0.604,"color":"#0000"},
        {"offset":0.62,"color":"#0000"},{"offset":0.62,"color":"#88f"},{"offset":0.624,"color":"#88f"},{"offset":0.624,"color":"#0000"},
        {"offset":0.64,"color":"#0000"},{"offset":0.64,"color":"#88f"},{"offset":0.644,"color":"#88f"},{"offset":0.644,"color":"#0000"},
        {"offset":0.66,"color":"#0000"},{"offset":0.66,"color":"#88f"},{"offset":0.664,"color":"#88f"},{"offset":0.664,"color":"#0000"},
        {"offset":0.68,"color":"#0000"},{"offset":0.68,"color":"#88f"},{"offset":0.684,"color":"#88f"},{"offset":0.684,"color":"#0000"},
        {"offset":0.7,"color":"#0000"},{"offset":0.7,"color":"#88f"},{"offset":0.704,"color":"#88f"},{"offset":0.704,"color":"#0000"},
        {"offset":0.72,"color":"#0000"},{"offset":0.72,"color":"#88f"},{"offset":0.724,"color":"#88f"},{"offset":0.724,"color":"#0000"},
        {"offset":0.74,"color":"#0000"},{"offset":0.74,"color":"#88f"},{"offset":0.744,"color":"#88f"},{"offset":0.744,"color":"#0000"},
        {"offset":0.76,"color":"#0000"},{"offset":0.76,"color":"#88f"},{"offset":0.764,"color":"#88f"},{"offset":0.764,"color":"#0000"},
        {"offset":0.78,"color":"#0000"},{"offset":0.78,"color":"#88f"},{"offset":0.784,"color":"#88f"},{"offset":0.784,"color":"#0000"},
        {"offset":0.8,"color":"#0000"},{"offset":0.8,"color":"#88f"},{"offset":0.804,"color":"#88f"},{"offset":0.804,"color":"#0000"},
        {"offset":0.82,"color":"#0000"},{"offset":0.82,"color":"#88f"},{"offset":0.824,"color":"#88f"},{"offset":0.824,"color":"#0000"},
        {"offset":0.84,"color":"#0000"},{"offset":0.84,"color":"#88f"},{"offset":0.844,"color":"#88f"},{"offset":0.844,"color":"#0000"},
        {"offset":0.86,"color":"#0000"},{"offset":0.86,"color":"#88f"},{"offset":0.864,"color":"#88f"},{"offset":0.864,"color":"#0000"},
        {"offset":0.88,"color":"#0000"},{"offset":0.88,"color":"#88f"},{"offset":0.884,"color":"#88f"},{"offset":0.884,"color":"#0000"},
        {"offset":0.9,"color":"#0000"},{"offset":0.9,"color":"#88f"},{"offset":0.904,"color":"#88f"},{"offset":0.904,"color":"#0000"},
        {"offset":0.92,"color":"#0000"},{"offset":0.92,"color":"#88f"},{"offset":0.924,"color":"#88f"},{"offset":0.924,"color":"#0000"},
        {"offset":0.94,"color":"#0000"},{"offset":0.94,"color":"#88f"},{"offset":0.944,"color":"#88f"},{"offset":0.944,"color":"#0000"},
        {"offset":0.96,"color":"#0000"},{"offset":0.96,"color":"#88f"},{"offset":0.964,"color":"#88f"},{"offset":0.964,"color":"#0000"},
        {"offset":0.98,"color":"#0000"},{"offset":0.98,"color":"#88f"},{"offset":0.984,"color":"#88f"},{"offset":0.984,"color":"#0000"},{"offset":1,"color":"#0000"}]}},
      "encoding": {"x": {"field": "m", "type": "quantitative"}, "y": {"field": "t", "type": "quantitative"}, "y2": {"datum": 58.3}}},
     {"data": {"name": "one"}, "mark": {"type": "rect", "color": "#b000b0", "opacity": 0.3}, "encoding": {"x": {"datum": 309}, "x2": {"datum": 374}, "y": {"datum": 1}, "y2": {"datum": 58.3}}},
     {"data": {"name": "rblue"}, "mark": {"type": "line", "color": "#8080ff", "strokeWidth": 1}, "encoding": {"x": {"field": "m", "type": "quantitative"}, "y": {"field": "t", "type": "quantitative"}}},
     {"data": {"name": "rexp"}, "mark": {"type": "line", "color": "#000", "strokeWidth": 1.5, "strokeDash": [5, 4]}, "encoding": {"x": {"field": "m", "type": "quantitative"}, "y": {"field": "t", "type": "quantitative"}, "order": {"value": null}, "detail": {"field": "s", "type": "nominal"}}},
     {"data": {"name": "robs"}, "mark": {"type": "line", "color": "#000", "strokeWidth": 1.5}, "encoding": {"x": {"field": "m", "type": "quantitative"}, "y": {"field": "t", "type": "quantitative"}, "order": {"value": null}}},
     {"data": {"name": "rmag"}, "mark": {"type": "line", "color": "#990099", "strokeWidth": 1.5}, "encoding": {"x": {"field": "m", "type": "quantitative"}, "y": {"field": "t", "type": "quantitative"}, "order": {"value": null}}},
     {"data": {"name": "one"}, "mark": {"type": "rule", "color": "#000", "strokeWidth": 1.5}, "encoding": {"x": {"datum": 250}, "x2": {"datum": 1700}, "y": {"datum": 58.3}}},
     {"data": {"name": "one"}, "mark": {"type": "text", "text": "ATLAS", "fontSize": 8.5, "fontWeight": "bold", "fontStyle": "italic", "angle": 90, "align": "left", "baseline": "middle", "color": "#a000a0"}, "encoding": {"x": {"datum": 422}, "y": {"datum": 56.9}}},
     {"data": {"name": "one"}, "mark": {"type": "text", "text": "h(125) couplings", "fontSize": 8.5, "angle": 90, "align": "left", "baseline": "middle", "color": "#a000a0"}, "encoding": {"x": {"datum": 422}, "y": {"datum": 50.2}}},
     {"data": {"name": "one"}, "mark": {"type": "text", "text": "ATLAS", "fontSize": 16.5, "fontWeight": "bold", "fontStyle": "italic", "align": "left", "baseline": "alphabetic"}, "encoding": {"x": {"datum": 326}, "y": {"datum": 71.8}}},
     {"data": {"name": "one"}, "mark": {"type": "text", "text": "√s = 13 TeV, 36.1 fb⁻¹", "fontSize": 12, "align": "left", "baseline": "alphabetic"}, "encoding": {"x": {"datum": 326}, "y": {"datum": 67.7}}},
     {"data": {"name": "one"}, "mark": {"type": "text", "text": "hMSSM scenario", "fontSize": 12, "align": "left", "baseline": "alphabetic"}, "encoding": {"x": {"datum": 326}, "y": {"datum": 64.0}}},
     {"data": {"name": "one"}, "mark": {"type": "text", "text": "H/A → ττ 95% CL limits", "fontSize": 12, "align": "left", "baseline": "alphabetic"}, "encoding": {"x": {"datum": 326}, "y": {"datum": 60.2}}},
     {"data": {"name": "one"}, "mark": {"type": "rect", "color": "#6a6aff", "opacity": 0.2}, "encoding": {"x": {"datum": 915}, "x2": {"datum": 1011}, "y": {"datum": 72.0}, "y2": {"datum": 74.6}}},
     {"data": {"name": "one"}, "mark": {"type": "rect", "fillOpacity": 0, "stroke": "#8080ff", "strokeWidth": 1}, "encoding": {"x": {"datum": 915}, "x2": {"datum": 1011}, "y": {"datum": 72.0}, "y2": {"datum": 74.6}}},
     {"data": {"name": "one"}, "mark": {"type": "text", "text": "ATLAS", "fontSize": 12, "fontWeight": "bold", "fontStyle": "italic", "align": "left", "baseline": "alphabetic"}, "encoding": {"x": {"datum": 1031}, "y": {"datum": 72.5}}},
     {"data": {"name": "one"}, "mark": {"type": "text", "text": "2015", "fontSize": 12.5, "align": "left", "baseline": "alphabetic"}, "encoding": {"x": {"datum": 1196}, "y": {"datum": 72.5}}},
     {"data": {"name": "one"}, "mark": {"type": "rule", "color": "#000", "strokeWidth": 1.5}, "encoding": {"x": {"datum": 1335}, "x2": {"datum": 1388}, "y": {"datum": 73.5}}},
     {"data": {"name": "one"}, "mark": {"type": "rule", "color": "#000", "strokeWidth": 1.5, "strokeDash": [4, 4]}, "encoding": {"x": {"datum": 1335}, "x2": {"datum": 1388}, "y": {"datum": 69.4}}},
     {"data": {"name": "one"}, "mark": {"type": "text", "text": "Observed", "fontSize": 14, "align": "left", "baseline": "alphabetic"}, "encoding": {"x": {"datum": 1420}, "y": {"datum": 72.5}}},
     {"data": {"name": "one"}, "mark": {"type": "text", "text": "Expected", "fontSize": 14, "align": "left", "baseline": "alphabetic"}, "encoding": {"x": {"datum": 1420}, "y": {"datum": 68.4}}},
     {"data": {"name": "one"}, "mark": {"type": "rect", "color": "#00ff00"}, "encoding": {"x": {"datum": 1343}, "x2": {"datum": 1407}, "y": {"datum": 63.8}, "y2": {"datum": 66.6}}},
     {"data": {"name": "one"}, "mark": {"type": "rect", "color": "#ffff00"}, "encoding": {"x": {"datum": 1343}, "x2": {"datum": 1407}, "y": {"datum": 59.7}, "y2": {"datum": 62.5}}},
     {"data": {"name": "one"}, "mark": {"type": "text", "text": "± 1σ", "fontSize": 14, "align": "left", "baseline": "alphabetic"}, "encoding": {"x": {"datum": 1420}, "y": {"datum": 64.0}}},
     {"data": {"name": "one"}, "mark": {"type": "text", "text": "± 2σ", "fontSize": 14, "align": "left", "baseline": "alphabetic"}, "encoding": {"x": {"datum": 1420}, "y": {"datum": 60.0}}},
     {"data": {"name": "one"}, "mark": {"type": "text", "text": "[GeV]", "fontSize": 19, "align": "right", "baseline": "alphabetic"}, "encoding": {"x": {"datum": 1700}, "y": {"datum": -10.66}}},
     {"data": {"name": "one"}, "mark": {"type": "text", "text": "A", "fontSize": 12, "fontStyle": "italic", "align": "right", "baseline": "alphabetic", "dx": -56}, "encoding": {"x": {"datum": 1700}, "y": {"datum": -11.5}}},
     {"data": {"name": "one"}, "mark": {"type": "text", "text": "m", "fontSize": 19, "fontStyle": "italic", "align": "right", "baseline": "alphabetic", "dx": -65}, "encoding": {"x": {"datum": 1700}, "y": {"datum": -10.66}}}
   ]},
   {"data": {"name": "one"}, "mark": "point", "encoding": {
     "x": {"field": "m", "type": "quantitative", "axis": {"orient": "bottom", "values": [300,400,600,700,800,900,1100,1200,1300,1400,1600,1700], "offset": -4.5, "tickSize": 4.5, "labels": false, "domain": false, "title": null}},
     "y": {"field": "t", "type": "quantitative", "axis": {"orient": "left", "values": [5,10,15,25,30,35,45,50,55,65,70,75], "offset": -5, "tickSize": 5, "labels": false, "domain": false, "title": null}}}},
   {"data": {"name": "one"}, "mark": "point", "encoding": {
     "x": {"field": "m", "type": "quantitative", "axis": {"orient": "bottom", "values": [500,1000,1500], "offset": -9, "tickSize": 9, "labels": false, "domain": false, "title": null}},
     "y": {"field": "t", "type": "quantitative", "axis": {"orient": "left", "values": [20,40,60], "offset": -9, "tickSize": 9, "labels": false, "domain": false, "title": null}}}},
   {"data": {"name": "one"}, "mark": "point", "encoding": {
     "x": {"field": "m", "type": "quantitative", "axis": {"orient": "top", "ticks": false, "labels": false, "domain": true, "domainWidth": 2, "title": null}},
     "y": {"field": "t", "type": "quantitative", "axis": {"orient": "right", "ticks": false, "labels": false, "domain": true, "domainWidth": 2, "title": null}}}},
   {"data": {"name": "one"}, "mark": "point", "encoding": {
     "x": {"field": "m", "type": "quantitative", "axis": null},
     "y": {"field": "t", "type": "quantitative", "axis": {"orient": "right", "values": [5,10,15,25,30,35,45,50,55,65,70,75], "offset": -5, "tickSize": 5, "labels": false, "domain": false, "title": null}}}},
   {"data": {"name": "one"}, "mark": "point", "encoding": {
     "x": {"field": "m", "type": "quantitative", "axis": null},
     "y": {"field": "t", "type": "quantitative", "axis": {"orient": "right", "values": [20,40,60], "offset": -9, "tickSize": 9, "labels": false, "domain": false, "title": null}}}}
  ]}
]
}
